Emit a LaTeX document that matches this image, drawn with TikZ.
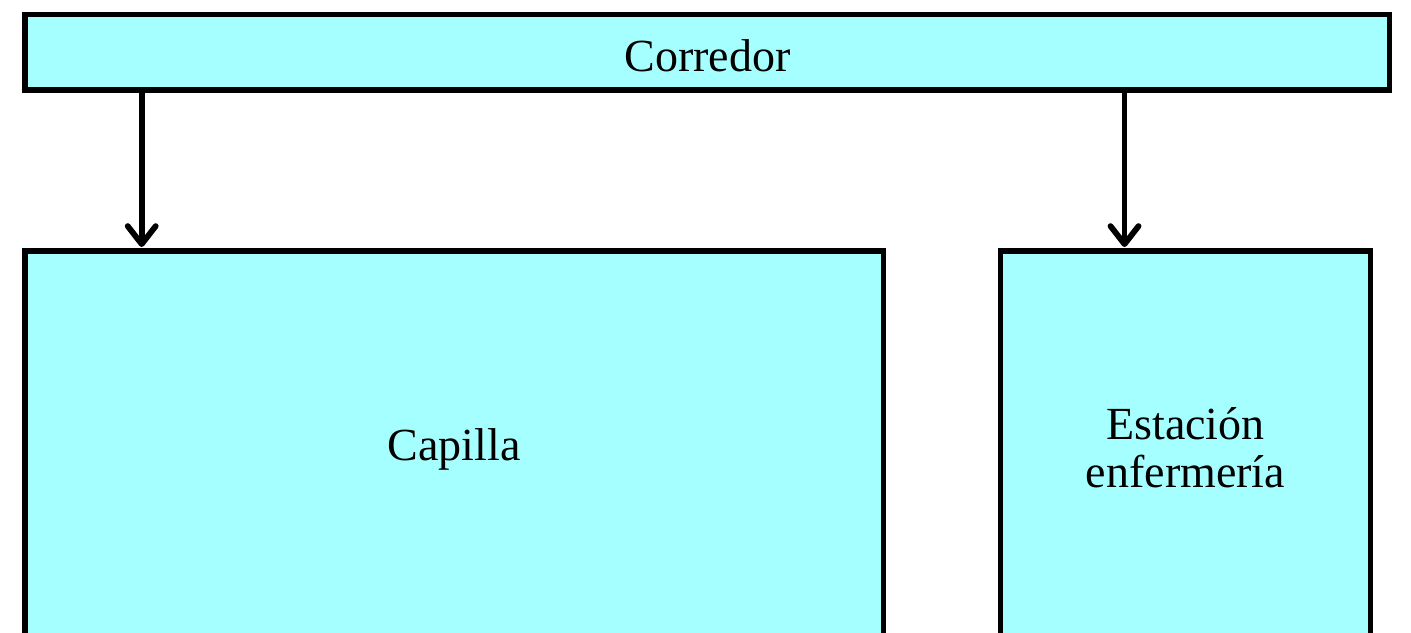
\documentclass[tikz,border=0pt]{standalone}
\usepackage{fontspec}
\setmainfont{Liberation Serif}
\usetikzlibrary{arrows.meta}
\definecolor{boxfill}{HTML}{A6FFFF}
\begin{document}
\begin{tikzpicture}[x=0.5pt,y=-0.5pt,
  room/.style={draw=black,fill=boxfill,line width=2.75pt,rectangle,inner sep=0pt,outer sep=0pt,
    font=\fontsize{23}{24.2}\selectfont,align=center},
  arr/.style={line width=2.9pt,-{Straight Barb[length=9pt,width=14pt,line cap=round,line join=round]},shorten >=2pt}]
\useasboundingbox (0,0) rectangle (1411,632);
\clip (0,0) rectangle (1411,632);
\node[room,minimum width=682.35pt,minimum height=37.85pt,text height=19.6pt,text depth=0pt] (corr) at (707.35,52.15) {Corredor};
\node[room,minimum width=429.25pt,minimum height=197pt,text height=17.4pt,text depth=5pt] (cap) at (454.25,448) {Capilla};
\node[room,minimum width=185pt,minimum height=197pt] (est) at (1185.5,448) {Estación\\enfermería};
\coordinate (x1) at (141.7,0);
\coordinate (x2) at (1124.5,0);
\draw[arr] (x1 |- corr.south) -- (x1 |- cap.north);
\draw[arr] (x2 |- corr.south) -- (x2 |- est.north);
\end{tikzpicture}
\end{document}
